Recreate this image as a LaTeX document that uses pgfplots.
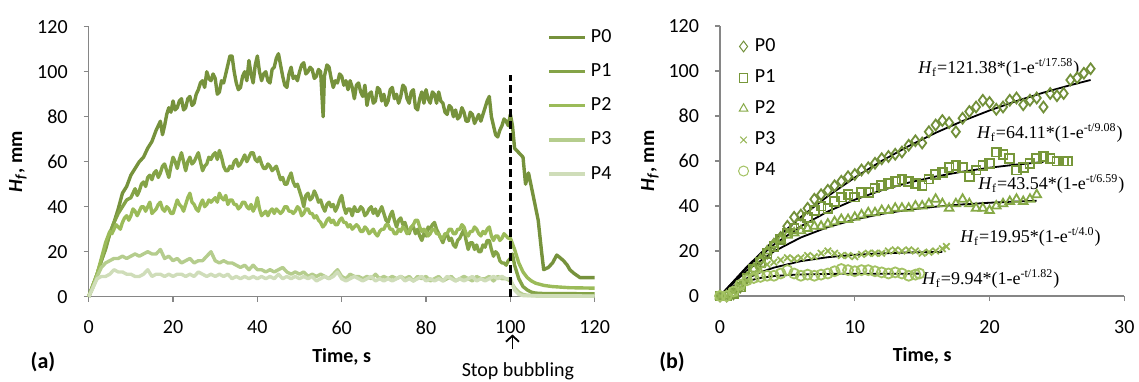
\documentclass[border=0pt]{standalone}
\usepackage{pgfplots}
\pgfplotsset{compat=1.18}
\usetikzlibrary{arrows.meta}
\usepackage{fontspec}
\setmainfont{Carlito}
\newfontfamily\timesfont{Liberation Serif}
\definecolor{axisgray}{HTML}{868686}
\definecolor{cP0}{HTML}{76923C}
\definecolor{cP1}{HTML}{84A347}
\definecolor{cP2}{HTML}{9BBB59}
\definecolor{cP3}{HTML}{B5CD8D}
\definecolor{cP4}{HTML}{CFDDB9}
\definecolor{rP0}{HTML}{72903A}
\definecolor{rP1}{HTML}{77973A}
\definecolor{rP2}{HTML}{86A946}
\definecolor{rP3}{HTML}{96B655}
\definecolor{rP4}{HTML}{A3C263}
\pgfplotsset{
  base/.style={
    anchor=south west, scale only axis, height=135pt,
    ymin=0, ymax=120, ytick={0,20,...,120},
    axis lines=left, axis line style={-, draw=axisgray, line width=0.6pt},
    tick align=outside, major tick length=2.5pt,
    tick style={draw=axisgray, line width=0.6pt},
    ticklabel style={font=\fontsize{10}{12}\selectfont, text=black},
    xticklabel style={yshift=-6pt},
    yticklabel style={xshift=-4.5pt},
    /pgf/number format/assume math mode=true,
    clip=false,
    xlabel={\textbf{Time, s}},
    ylabel={\textbf{\textit{H}\textsubscript{\textit{f}}, mm}},
    label style={font=\fontsize{10}{12}\selectfont},
    legend cell align=left,
  }
}
\begin{document}
\begin{tikzpicture}
\path[use as bounding box] (0,0) rectangle (569.5pt,190.5pt);
% ---------------- left panel ----------------
\begin{axis}[base, at={(44.35pt,42.15pt)}, width=253pt,
  xmin=0, xmax=120, xtick={0,20,...,120},
  every axis x label/.style={at={(axis description cs:0.5,-0.222)},anchor=center},
  every axis y label/.style={at={(axis description cs:-0.1397,0.5)},anchor=center,rotate=90},
  legend style={at={(rel axis cs:0.906,1.007)}, anchor=north west, draw=none, fill=none,
    font=\fontsize{10}{12}\selectfont, row sep=5.15pt, inner sep=0pt},
  legend image code/.code={\draw[#1] (0pt,0pt) -- (18pt,0pt);},
  every axis plot/.append style={line width=1.7pt, line join=round}]
\addplot[cP0] coordinates {(0,0)(1,5)(2,10)(3,16)(4,22)(5,28)(6,33)(7,39)(8,46)(9,49)(10,54)(11,57)(12,60)(13,62)(14,66)(15,69)(16,74)(17,78)(17.5,72)(18,76)(18.5,81)(19,84)(19.5,82)(20,87)(20.5,83)(21,84)(21.5,87)(22,88)(22.5,83)(23,84)(23.5,88)(24,89)(24.5,85)(25,86)(25.5,90)(26,92)(26.5,95)(27,96)(27.5,93)(28,100)(28.5,97)(29,96)(29.5,99)(30,97)(30.5,90)(31,91)(31.5,96)(32,95)(32.5,99)(33,103)(33.5,107)(34,107)(34.5,100)(35,95)(35.5,92)(36,93)(36.5,98)(37,100)(37.5,96)(38,105)(38.5,99)(39,95)(39.5,103)(40,107)(40.5,100)(41,96)(41.5,99)(42,100)(42.5,96)(43,95)(43.5,101)(44,102)(44.5,106)(45,108)(45.5,103)(46,98)(46.5,94)(47,93)(47.5,99)(48,102)(48.5,97)(49,98)(49.5,96)(50,100)(50.5,103)(51,104)(51.5,99)(52,100)(52.5,102)(53,101)(53.5,97)(54,98)(54.5,101)(55,100)(55.6,80)(55.9,98)(56.5,103)(57,102)(57.5,97)(58,93)(58.5,96)(59,95)(59.5,99)(60,98)(60.5,94)(61,96)(61.5,92)(62,96)(62.5,93)(63,88)(63.5,94)(64,95)(64.5,91)(65,89)(65.5,94)(66,85)(66.5,90)(67,91)(67.5,86)(68,87)(68.5,93)(69,92)(69.5,87)(70,90)(70.5,85)(71,87)(71.5,92)(72,93)(72.5,88)(73,90)(73.5,86)(74,89)(74.5,94)(75,93)(75.5,88)(76,86)(76.5,91)(77,92)(77.5,84)(78,83)(78.5,88)(79,91)(79.5,86)(80,92)(80.5,88)(81,86)(81.5,91)(82,90)(82.5,86)(83,91)(83.5,87)(84,86)(84.5,82)(85,81)(85.5,85)(86,84)(86.5,80)(87,83)(87.5,79)(88,80)(88.5,84)(89,82)(89.5,78)(90,78)(90.5,82)(91,81)(91.5,77)(92,79)(92.5,81)(93,78)(93.5,81)(94,84)(94.5,87)(95,89)(95.5,80)(96,76)(96.5,72)(97,71)(97.5,74)(98,76)(98.5,79)(99,78)(99.5,76)(100,81)(100.5,76)(101,66)(102,64)(103,62)(103.6,50)(104.3,55)(105.4,45)(106.6,34)(107.4,20)(107.9,12)(109,13)(110,15)(111,18.5)(112,17)(112.6,16)(113.5,14)(114.1,12)(115,10.5)(116.5,8.5)(120,8.5)};
\addlegendentry{P0}
\addplot[cP1] coordinates {(0,0)(1,5)(2,10)(3,16)(4,21)(5,28)(6,33)(7,37)(8,40)(9,43)(10,44)(10.5,46)(11,48)(11.5,45)(12,47)(12.5,50)(13,51)(13.5,49)(14,53)(14.5,54)(15,52)(15.5,55)(16,56)(16.5,53)(17,55)(17.5,58)(18,59)(18.5,56)(19,53)(19.5,58)(20,62)(20.5,60)(21,57)(21.5,61)(22,64)(22.5,60)(23,56)(23.5,60)(24,62)(24.5,59)(25,60)(25.5,62)(26,64)(26.5,60)(27,56)(27.5,58)(28,59)(28.5,62)(29,61)(29.5,63)(30,64)(30.5,61)(31,65)(31.5,62)(32,58)(32.5,56)(33,56)(33.5,58)(34,57)(34.5,60)(35,61)(35.5,58)(36,59)(36.5,61)(37,63)(37.5,60)(38,62)(38.5,64)(39,64)(39.5,61)(40,60)(40.5,62)(41,59)(41.5,57)(42,57)(42.5,59)(43,58)(43.5,56)(44,57)(44.5,58)(45,55)(45.5,52)(46,53)(46.5,50)(47,50)(47.5,53)(48,55)(48.5,51)(49,49)(49.5,50)(50,47)(50.5,44)(51,40)(51.5,45)(52,46)(52.5,43)(53,44)(53.5,47)(54,45)(54.5,42)(55,43)(55.5,40)(56,38)(56.5,41)(57,42)(57.5,40)(58,41)(58.5,38)(59,40)(59.5,43)(60,45)(60.5,40)(61,37)(61.5,39)(62,39)(62.5,36)(63,40)(63.5,38)(64,38)(64.5,40)(65,39)(65.5,36)(66,37)(66.5,39)(67,40)(67.5,37)(68,39)(68.5,36)(69,38)(69.5,40)(70,37)(70.5,34)(71,33)(71.5,36)(72,38)(72.5,34)(73,31)(73.5,34)(74,35)(74.5,32)(75,33)(75.5,30)(76,28)(76.5,31)(77,31)(77.5,28)(78,30)(78.5,27)(79,25)(79.5,28)(80,27)(80.5,31)(81,30)(81.5,32)(82,33)(82.5,30)(83,28)(83.5,26)(84,24)(84.5,27)(85,28)(85.5,25)(86,26)(86.5,23)(87,22)(87.5,25)(88,26)(88.5,28)(89,30)(89.5,25)(90,21)(90.5,24)(91,24)(91.5,21)(92,23)(92.5,20)(93,20)(93.5,23)(94,22)(94.5,25)(95,25)(95.5,21)(96,18)(96.5,20)(97,19)(97.5,16)(98,15)(98.5,15)(99,14)(99.5,16)(100,17)(100.5,19)(101,14)(102,8)(103,4.5)(104,3)(105,2)(106,1.6)(108,1.4)(120,1.3)};
\addlegendentry{P1}
\addplot[cP2] coordinates {(0,0)(1,5)(2,10)(3,17)(4,24)(5,29)(5.5,28)(6,30)(6.5,32)(7,31)(7.5,30)(8,33)(8.5,35)(9,36)(9.5,34)(10,36)(10.5,39)(11,38)(11.5,36)(12,38)(12.5,40)(13,40)(13.5,38)(14,40)(14.5,42)(15,37)(15.5,38)(16,39)(16.5,41)(17,42)(17.5,39)(18,38)(18.5,40)(19,39)(19.5,37)(20,37)(20.5,40)(21,43)(21.5,41)(22,40)(22.5,38)(23,41)(23.5,44)(24,46)(24.5,42)(25,41)(25.5,39)(26,38)(26.5,41)(27,43)(27.5,40)(28,41)(28.5,43)(29,42)(29.5,43)(30,44)(30.5,42)(31,46)(31.5,44)(32,43)(32.5,45)(33,41)(33.5,43)(34,43)(34.5,41)(35,41)(35.5,39)(36,40)(36.5,42)(37,42)(37.5,40)(38,39)(38.5,41)(39,38)(39.5,40)(40,44)(40.5,39)(41,36)(41.5,37)(42,38)(42.5,36)(43,38)(43.5,39)(44,37)(44.5,39)(45,38)(45.5,37)(46,38)(46.5,40)(47,40)(47.5,38)(48,38)(48.5,37)(49,38)(49.5,40)(50,39)(50.5,36)(51,37)(51.5,39)(52,39)(52.5,37)(53,37)(53.5,35)(54,36)(54.5,34)(55,33)(55.5,31)(56,32)(56.5,34)(57,35)(57.5,33)(58,34)(58.5,32)(59,32)(59.5,34)(60,35)(60.5,33)(61,33)(61.5,31)(62,32)(62.5,30)(63,31)(63.5,32)(64,31)(64.5,29)(65,29)(65.5,31)(66,30)(66.5,28)(67,29)(67.5,30)(68,28)(68.5,27)(69,29)(69.5,30)(70,30)(70.5,32)(71,32)(71.5,30)(72,30)(72.5,28)(73,28)(73.5,30)(74,29)(74.5,31)(75,30)(75.5,28)(76,29)(76.5,31)(77,32)(77.5,34)(78,34)(78.5,31)(79,29)(79.5,30)(80,29)(80.5,27)(81,28)(81.5,30)(82,30)(82.5,28)(83,28)(83.5,26)(84,26)(84.5,28)(85,28)(85.5,30)(86,30)(86.5,28)(87,28)(87.5,30)(88,30)(88.5,32)(89,31)(89.5,28)(90,27)(90.5,29)(91,29)(91.5,31)(92,30)(92.5,28)(93,27)(93.5,29)(94,28)(94.5,30)(95,31)(95.5,27)(96,25)(96.5,27)(97,27)(97.5,25)(98,26)(98.5,28)(99,27)(99.5,26)(100,26)(101,21)(102,15)(103,11)(104,8.5)(105,7)(106,6)(108,5)(110,4.5)(114,4)(120,3.8)};
\addlegendentry{P2}
\addplot[cP3] coordinates {(0,0)(1,4)(2,9)(3,13)(4,15)(5,16)(6,17)(7,17)(8,18)(9,17)(10,18)(11,19)(12,18)(13,19)(14,20)(15,19)(16,19)(17,21)(18,17)(19,18)(20,16)(21,17)(22,15)(23,16)(24,17)(25,15)(26,16)(27,16)(28,18)(29,20)(30,16)(31,15)(32,16)(33,15)(34,15)(35,14)(36,13)(37,14)(38,12)(39,14)(40,12)(41,12)(42,11)(43,12)(44,11)(45,12)(46,13)(47,11)(48,10)(49,11)(50,10)(51,11)(52,9)(53,10)(54,9)(55,10)(56,9)(57,8)(58,10)(59,12)(60,9)(61,8)(62,10)(63,9)(64,9)(65,8)(66,9)(67,8)(68,10)(69,8)(70,9)(71,8)(72,9)(73,8)(74,9)(75,8)(76,9)(77,7)(78,9)(79,8)(80,9)(81,7)(82,8)(83,9)(84,7)(85,8)(86,9)(87,7)(88,8)(89,9)(90,8)(91,7)(92,9)(93,8)(94,8)(95,9)(96,7)(97,9)(98,8)(99,8)(100,7)(101,4)(102,2)(103,1)(104,0.6)(106,0.4)(120,0.3)};
\addlegendentry{P3}
\addplot[cP4] coordinates {(0,0)(1,4)(2,8)(3,9)(4,9)(5,10)(6,12)(7,11)(8,11)(9,10)(10,10)(11,9)(12,9)(13,10)(14,12)(15,9)(16,10)(17,10)(18,9)(19,10)(20,9)(21,10)(22,10)(23,9)(24,10)(25,9)(26,11)(27,10)(28,9)(29,10)(30,9)(31,10)(32,9)(33,10)(34,8)(35,9)(36,8)(37,9)(38,8)(39,9)(40,8)(41,9)(42,8)(43,9)(44,8)(45,10)(46,8)(47,9)(48,8)(49,9)(50,8)(51,9)(52,8)(53,9)(54,7)(55,8)(56,9)(57,8)(58,9)(59,11)(60,8)(61,7)(62,8)(63,9)(64,8)(65,7)(66,8)(67,9)(68,7)(69,8)(70,7)(71,8)(72,7)(73,8)(74,9)(75,7)(76,8)(77,7)(78,8)(79,9)(80,7)(81,8)(82,7)(83,8)(84,7)(85,9)(86,8)(87,7)(88,8)(89,7)(90,8)(91,9)(92,7)(93,8)(94,7)(95,8)(96,9)(97,8)(98,9)(99,8)(100,8)(101,3)(102,1)(103,0.5)(120,0.3)};
\addlegendentry{P4}
\addplot[black, line width=1.5pt, dash pattern=on 4pt off 2pt, forget plot] coordinates {(100,0)(100,98.5)};
\draw[-{Straight Barb[length=3pt,width=6.5pt]}, line width=0.9pt] (axis cs:100.5,-23.4) -- (axis cs:100.5,-16.8);
\node[font=\fontsize{10}{12}\selectfont] at (axis cs:101.8,-33.0) {Stop bubbling};
\end{axis}
\node[font=\fontsize{11}{13}\selectfont\bfseries] at (21.5pt,9.5pt) {(a)};
% ---------------- right panel ----------------
\begin{axis}[base, at={(360pt,42.5pt)}, width=202.15pt,
  xmin=0, xmax=30, xtick={0,10,20,30},
  every axis x label/.style={at={(axis description cs:0.5,-0.222)},anchor=center},
  every axis y label/.style={at={(axis description cs:-0.173,0.5)},anchor=center,rotate=90},
  legend style={at={(rel axis cs:0.035,0.970)}, anchor=north west, draw=none, fill=none,
    font=\fontsize{10}{12}\selectfont, row sep=3.6pt, inner sep=0pt},
  legend image code/.code={\path[draw=none,fill=none] (0pt,-2pt) rectangle (8.2pt,2pt); \draw[#1, only marks, mark options={line width=0.5pt}] plot coordinates {(4.5pt,0pt)};},
  every axis plot/.append style={only marks, mark options={line width=0.9pt, fill=none}}]
\addplot[rP0, mark=diamond, mark size=2.7pt] coordinates {(0,0)(0.5,0)(1,1)(1.5,4)(2,8)(2.5,12)(3,16)(3.5,19)(4,23)(4.5,26)(5,31)(5.5,35)(6,36)(6.5,39)(7,43)(7.5,45)(8,47)(8.5,49)(9,51)(9.5,53)(10,54)(10.5,56)(11,57)(11.5,59)(12,61)(12.5,62)(13,63)(13.5,64)(14,67)(14.5,69)(15,68)(15.5,73)(16,76)(16.5,78)(17,77)(17.5,73)(18,79)(18.5,82)(19,84)(19.5,87)(20,86)(20.5,83)(21,84)(21.5,87)(22,88)(22.5,85)(23,87)(23.5,88)(24,84)(24.5,90)(25,89)(25.5,90)(26,96)(26.5,97)(27,99)(27.5,101)};
\addlegendentry{P0}
\addplot[rP1, mark=square, mark size=2.2pt] coordinates {(0,0)(0.5,0)(1,1)(1.5,4)(2,8)(2.5,12)(3,15)(3.5,19)(4,22)(4.5,25)(5,28)(5.5,30)(6,32)(6.5,35)(7,38)(7.5,40)(8,39)(8.5,42)(9,44)(9.5,45)(10,44)(10.5,46)(11,46)(11.5,48)(12,49)(12.5,50)(13,51)(13.5,52)(14,51)(14.5,50)(15,49)(15.5,52)(16,54)(16.5,55)(17,57)(17.5,58)(18,57)(18.5,53)(19,56)(19.5,58)(20,59)(20.5,64)(21,63)(21.5,61)(22,56)(22.5,57)(23,59)(23.5,61)(24,62)(24.5,61)(25,60)(25.5,60)(25.8,60)};
\addlegendentry{P1}
\addplot[rP2, mark=triangle, mark size=2.5pt] coordinates {(0,0)(0.5,0)(1,1)(1.5,4)(2,8)(2.5,12)(3,16)(3.5,20)(4,23)(4.5,25)(5,27)(5.5,28)(6,29)(6.5,30)(7,31)(7.5,31)(8,32)(8.5,33)(9,34)(9.5,34)(10,35)(10.5,36)(11,37)(11.5,37)(12,38)(12.5,38)(13,39)(13.5,39)(14,39)(14.5,40)(15,40)(15.5,41)(16,43)(16.5,41)(17,39)(17.5,41)(18,43)(18.5,41)(19,39)(19.5,39)(20,38)(20.5,40)(21,41)(21.5,42)(22,43)(22.5,42)(23,43)(23.5,45)};
\addlegendentry{P2}
\addplot[rP3, mark=x, mark size=2.3pt] coordinates {(0,0)(0.5,0)(1,1.5)(1.5,4)(2,7)(2.5,10)(3,12)(3.5,14)(4,15)(4.5,16)(5,17)(5.5,16.5)(6,17)(6.5,18)(7,17.5)(7.5,19)(8,20)(8.5,19)(9,18)(9.5,18)(10,17.5)(10.5,18.5)(11,19)(11.5,19)(12,19)(12.5,20)(13,20.5)(13.5,20)(14,20.5)(14.5,20)(15,19)(15.5,19.5)(16,20)(16.5,21)(16.8,22)};
\addlegendentry{P3}
\addplot[rP4, mark=o, mark size=2.5pt] coordinates {(0,0)(0.5,0)(1,2)(1.5,5)(2,7)(2.5,8)(3,8.5)(3.5,9)(4,9)(4.5,10)(5,11.5)(5.5,10)(6,9)(6.5,9.5)(7,9)(7.5,9.5)(8,10)(8.5,11)(9,12)(9.5,11.5)(10,11)(10.5,11.5)(11,11.5)(11.5,11)(12,10.5)(12.5,10)(13,10.5)(13.5,10)(14,9)(14.5,9.5)(14.8,10)};
\addlegendentry{P4}
% fitted curves
\addplot[black, line width=0.9pt, no marks, sharp plot, forget plot] coordinates {(0,0)(2,13.05)(4,24.70)(6,35.10)(8,44.38)(10,52.65)(12,60.05)(14,66.64)(16,72.52)(18,77.78)(20,82.47)(22,86.65)(24,90.39)(26,93.72)(27.5,96.0)};
\addplot[black, line width=0.9pt, no marks, sharp plot, forget plot] coordinates {(0,0)(2,12.67)(4,22.84)(6,31.00)(8,37.55)(10,42.80)(12,47.01)(14,50.39)(16,53.10)(18,55.28)(20,57.02)(22,58.42)(24,59.55)};
\addplot[black, line width=0.9pt, no marks, sharp plot, forget plot] coordinates {(0,0)(2,11.40)(4,19.81)(6,26.02)(8,30.61)(10,33.99)(12,36.49)(14,38.34)(16,39.70)(18,40.71)(20,41.45)(22,42.00)(23.5,42.31)};
\addplot[black, line width=0.9pt, no marks, sharp plot, forget plot] coordinates {(0,0)(1,4.41)(2,7.85)(3,10.53)(4,12.61)(6,15.50)(8,17.25)(10,18.31)(12,18.96)(14,19.35)(16.5,19.63)};
\addplot[black, line width=0.9pt, no marks, sharp plot, forget plot] coordinates {(0,0)(0.5,2.39)(1,4.20)(1.5,5.58)(2,6.63)(3,8.03)(4,8.84)(5,9.30)(6,9.57)(8,9.82)(10,9.90)(14.8,9.94)};
\begin{scope}[every node/.style={anchor=west, inner sep=0pt, font=\timesfont\fontsize{9}{10}\selectfont}]
\node at (axis cs:14.69,101.3) {\textit{H}\textsubscript{f}=121.38*(1-e\textsuperscript{-t/17.58})};
\node at (axis cs:19.05,72.4) {\textit{H}\textsubscript{f}=64.11*(1-e\textsuperscript{-t/9.08})};
\node at (axis cs:19.14,49.8) {\textit{H}\textsubscript{f}=43.54*(1-e\textsuperscript{-t/6.59})};
\node at (axis cs:17.81,26.2) {\textit{H}\textsubscript{f}=19.95*(1-e\textsuperscript{-t/4.0})};
\node at (axis cs:14.97,7.6) {\textit{H}\textsubscript{f}=9.94*(1-e\textsuperscript{-t/1.82})};
\end{scope}
\end{axis}
\node[font=\fontsize{11}{13}\selectfont\bfseries] at (336pt,9.5pt) {(b)};
\end{tikzpicture}
\end{document}
